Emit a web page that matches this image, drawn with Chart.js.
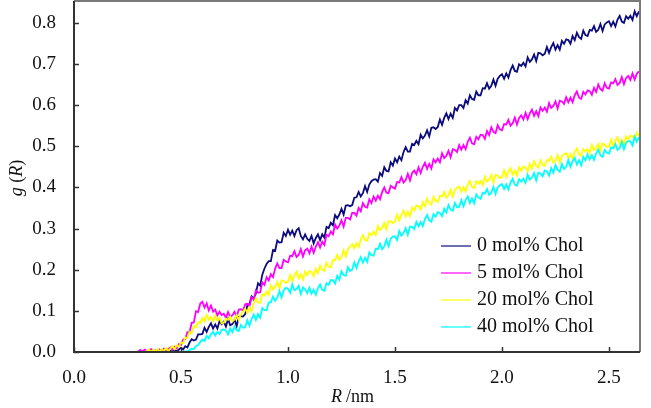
<!DOCTYPE html>
<html>
<head>
<meta charset="utf-8">
<script src="https://cdn.jsdelivr.net/npm/chart.js@4/dist/chart.umd.min.js"></script>
<style>
	html, body { margin: 0; padding: 0; background: #fff; }
	#wrap { width: 651px; height: 408px; }
</style>
</head>
<body>
<div id="wrap"><canvas id="gr" width="651" height="408"></canvas></div>
<script>
// R / nm sample positions
const rValues = [
	0.30,0.31,0.32,0.33,0.34,0.35,0.36,0.37,0.38,0.39,
	0.40,0.41,0.42,0.43,0.44,0.45,0.46,0.47,0.48,0.49,
	0.50,0.51,0.52,0.53,0.54,0.55,0.56,0.57,0.58,0.59,
	0.60,0.61,0.62,0.63,0.64,0.65,0.66,0.67,0.68,0.69,
	0.70,0.71,0.72,0.73,0.74,0.75,0.76,0.77,0.78,0.79,
	0.80,0.81,0.82,0.83,0.84,0.85,0.86,0.87,0.88,0.89,
	0.90,0.91,0.92,0.93,0.94,0.95,0.96,0.97,0.98,0.99,
	1.00,1.01,1.02,1.03,1.04,1.05,1.06,1.07,1.08,1.09,
	1.10,1.11,1.12,1.13,1.14,1.15,1.16,1.17,1.18,1.19,
	1.20,1.21,1.22,1.23,1.24,1.25,1.26,1.27,1.28,1.29,
	1.30,1.31,1.32,1.33,1.34,1.35,1.36,1.37,1.38,1.39,
	1.40,1.41,1.42,1.43,1.44,1.45,1.46,1.47,1.48,1.49,
	1.50,1.51,1.52,1.53,1.54,1.55,1.56,1.57,1.58,1.59,
	1.60,1.61,1.62,1.63,1.64,1.65,1.66,1.67,1.68,1.69,
	1.70,1.71,1.72,1.73,1.74,1.75,1.76,1.77,1.78,1.79,
	1.80,1.81,1.82,1.83,1.84,1.85,1.86,1.87,1.88,1.89,
	1.90,1.91,1.92,1.93,1.94,1.95,1.96,1.97,1.98,1.99,
	2.00,2.01,2.02,2.03,2.04,2.05,2.06,2.07,2.08,2.09,
	2.10,2.11,2.12,2.13,2.14,2.15,2.16,2.17,2.18,2.19,
	2.20,2.21,2.22,2.23,2.24,2.25,2.26,2.27,2.28,2.29,
	2.30,2.31,2.32,2.33,2.34,2.35,2.36,2.37,2.38,2.39,
	2.40,2.41,2.42,2.43,2.44,2.45,2.46,2.47,2.48,2.49,
	2.50,2.51,2.52,2.53,2.54,2.55,2.56,2.57,2.58,2.59,
	2.60,2.61,2.62,2.63,2.64
];

// 0 mol% Chol
const chol0 = [
	null,null,null,null,null,null,null,null,null,null,
	null,null,null,null,0.000,0.003,0.001,0.004,0.002,0.006,
	0.010,0.006,0.014,0.011,0.023,0.031,0.028,0.030,0.043,0.043,
	0.044,0.059,0.049,0.061,0.070,0.057,0.067,0.057,0.075,0.068,
	0.074,0.062,0.080,0.065,0.068,0.079,0.063,0.085,0.087,0.086,
	0.092,0.113,0.117,0.135,0.129,0.143,0.167,0.161,0.188,0.203,
	0.214,0.221,0.221,0.248,0.246,0.271,0.266,0.267,0.290,0.282,
	0.297,0.285,0.295,0.282,0.296,0.301,0.282,0.274,0.286,0.275,
	0.270,0.282,0.264,0.277,0.286,0.272,0.286,0.278,0.304,0.301,
	0.314,0.308,0.333,0.325,0.334,0.348,0.334,0.356,0.357,0.354,
	0.357,0.375,0.376,0.389,0.378,0.386,0.403,0.389,0.407,0.415,
	0.419,0.420,0.414,0.435,0.428,0.449,0.440,0.439,0.461,0.453,
	0.470,0.461,0.475,0.466,0.486,0.498,0.487,0.487,0.506,0.503,
	0.513,0.505,0.528,0.519,0.526,0.539,0.524,0.545,0.546,0.542,
	0.547,0.565,0.552,0.569,0.580,0.566,0.579,0.569,0.593,0.587,
	0.600,0.600,0.593,0.612,0.604,0.624,0.615,0.613,0.633,0.624,
	0.624,0.641,0.640,0.653,0.640,0.647,0.662,0.647,0.664,0.671,
	0.675,0.664,0.677,0.667,0.685,0.696,0.683,0.681,0.699,0.695,
	0.703,0.694,0.716,0.705,0.711,0.723,0.707,0.727,0.726,0.721,
	0.725,0.741,0.727,0.741,0.751,0.735,0.746,0.735,0.756,0.749,
	0.760,0.758,0.749,0.768,0.758,0.776,0.765,0.761,0.781,0.770,
	0.768,0.783,0.781,0.792,0.778,0.783,0.797,0.780,0.796,0.801,
	0.804,0.792,0.803,0.791,0.808,0.817,0.803,0.800,0.816,0.810,
	0.817,0.807,0.828,0.816,0.828
];

// 5 mol% Chol
const chol5 = [
	0.002,0.005,0.001,0.006,0.003,0.001,0.007,0.002,0.004,0.001,
	0.006,0.001,0.008,0.003,0.007,0.011,0.006,0.013,0.009,0.019,
	0.017,0.030,0.031,0.048,0.048,0.071,0.072,0.099,0.097,0.118,
	0.122,0.108,0.118,0.101,0.113,0.098,0.103,0.089,0.098,0.090,
	0.093,0.083,0.097,0.086,0.089,0.098,0.086,0.103,0.104,0.101,
	0.116,0.117,0.111,0.133,0.127,0.150,0.144,0.145,0.169,0.163,
	0.182,0.174,0.189,0.182,0.203,0.215,0.204,0.204,0.224,0.220,
	0.218,0.234,0.233,0.245,0.231,0.236,0.250,0.232,0.247,0.251,
	0.240,0.256,0.241,0.256,0.267,0.254,0.268,0.260,0.285,0.281,
	0.293,0.286,0.310,0.300,0.307,0.320,0.305,0.326,0.326,0.322,
	0.338,0.338,0.331,0.350,0.342,0.362,0.353,0.351,0.371,0.362,
	0.378,0.368,0.380,0.371,0.389,0.400,0.387,0.386,0.404,0.400,
	0.397,0.413,0.412,0.425,0.412,0.418,0.433,0.417,0.435,0.441,
	0.432,0.449,0.435,0.450,0.460,0.445,0.457,0.446,0.468,0.461,
	0.470,0.461,0.483,0.471,0.477,0.489,0.473,0.493,0.491,0.486,
	0.503,0.492,0.503,0.493,0.511,0.521,0.507,0.505,0.523,0.517,
	0.528,0.527,0.518,0.537,0.527,0.546,0.535,0.532,0.551,0.541,
	0.539,0.554,0.553,0.564,0.550,0.556,0.570,0.553,0.569,0.575,
	0.565,0.581,0.566,0.580,0.589,0.574,0.585,0.573,0.594,0.586,
	0.594,0.584,0.605,0.593,0.598,0.609,0.592,0.611,0.609,0.603,
	0.619,0.607,0.618,0.607,0.624,0.633,0.618,0.615,0.632,0.626,
	0.636,0.634,0.625,0.642,0.632,0.650,0.639,0.635,0.653,0.642,
	0.640,0.655,0.653,0.663,0.649,0.654,0.668,0.651,0.666,0.671,
	0.661,0.677,0.662,0.676,0.682
];

// 20 mol% Chol
const chol20 = [
	null,null,null,0.000,0.002,0.006,0.001,0.005,0.002,0.007,
	0.001,0.007,0.003,0.009,0.002,0.008,0.014,0.007,0.016,0.013,
	0.023,0.021,0.035,0.034,0.049,0.046,0.064,0.060,0.073,0.070,
	0.083,0.074,0.090,0.078,0.085,0.075,0.088,0.076,0.083,0.070,
	0.071,0.081,0.078,0.086,0.074,0.079,0.090,0.078,0.092,0.099,
	0.105,0.095,0.108,0.099,0.119,0.131,0.120,0.120,0.140,0.137,
	0.147,0.139,0.162,0.152,0.158,0.170,0.154,0.174,0.173,0.168,
	0.171,0.187,0.172,0.186,0.195,0.179,0.189,0.176,0.196,0.187,
	0.197,0.194,0.184,0.202,0.192,0.210,0.200,0.197,0.217,0.207,
	0.206,0.223,0.223,0.236,0.224,0.231,0.247,0.232,0.250,0.257,
	0.262,0.252,0.264,0.255,0.273,0.284,0.272,0.270,0.289,0.284,
	0.293,0.284,0.306,0.296,0.302,0.314,0.298,0.318,0.318,0.313,
	0.317,0.334,0.320,0.334,0.344,0.329,0.341,0.330,0.351,0.344,
	0.356,0.354,0.346,0.364,0.354,0.373,0.362,0.358,0.377,0.367,
	0.365,0.380,0.378,0.389,0.375,0.381,0.395,0.378,0.394,0.399,
	0.402,0.390,0.401,0.390,0.407,0.416,0.401,0.398,0.415,0.409,
	0.416,0.406,0.426,0.414,0.419,0.430,0.412,0.431,0.429,0.422,
	0.425,0.441,0.425,0.439,0.447,0.431,0.441,0.429,0.449,0.441,
	0.451,0.449,0.439,0.457,0.446,0.464,0.452,0.448,0.466,0.455,
	0.452,0.467,0.464,0.475,0.460,0.465,0.478,0.461,0.476,0.481,
	0.483,0.471,0.481,0.470,0.486,0.495,0.480,0.477,0.493,0.487,
	0.493,0.483,0.503,0.491,0.495,0.506,0.488,0.507,0.504,0.498,
	0.500,0.516,0.500,0.514,0.522,0.506,0.516,0.504,0.524,0.516,
	0.526,0.524,0.515,0.533,0.525
];

// 40 mol% Chol
const chol40 = [
	null,null,null,null,null,null,null,null,null,null,
	null,null,null,null,null,null,null,null,null,null,
	null,0.000,0.002,0.001,0.005,0.008,0.007,0.014,0.017,0.024,
	0.030,0.027,0.039,0.033,0.043,0.049,0.040,0.049,0.044,0.054,
	0.055,0.052,0.043,0.057,0.048,0.062,0.053,0.051,0.066,0.059,
	0.060,0.077,0.064,0.080,0.091,0.078,0.092,0.083,0.107,0.102,
	0.102,0.120,0.121,0.135,0.124,0.132,0.148,0.133,0.150,0.156,
	0.154,0.144,0.164,0.150,0.153,0.161,0.141,0.157,0.152,0.143,
	0.156,0.142,0.151,0.139,0.155,0.164,0.151,0.149,0.167,0.163,
	0.175,0.174,0.166,0.185,0.176,0.196,0.187,0.185,0.206,0.197,
	0.200,0.218,0.204,0.220,0.231,0.217,0.229,0.219,0.242,0.235,
	0.234,0.251,0.250,0.263,0.250,0.257,0.273,0.257,0.275,0.281,
	0.281,0.272,0.294,0.283,0.289,0.301,0.285,0.305,0.304,0.299,
	0.316,0.305,0.316,0.306,0.323,0.333,0.320,0.317,0.335,0.329,
	0.340,0.338,0.330,0.348,0.339,0.357,0.346,0.343,0.362,0.352,
	0.353,0.369,0.354,0.369,0.378,0.362,0.373,0.361,0.383,0.375,
	0.372,0.387,0.385,0.396,0.382,0.387,0.401,0.384,0.400,0.405,
	0.408,0.396,0.407,0.395,0.412,0.421,0.407,0.404,0.420,0.414,
	0.421,0.411,0.431,0.419,0.424,0.435,0.417,0.436,0.434,0.427,
	0.441,0.439,0.429,0.447,0.436,0.454,0.443,0.438,0.457,0.445,
	0.450,0.466,0.450,0.464,0.472,0.456,0.466,0.454,0.474,0.466,
	0.480,0.468,0.478,0.467,0.483,0.492,0.478,0.474,0.491,0.484,
	0.482,0.497,0.495,0.505,0.491,0.496,0.510,0.493,0.508,0.513,
	0.512,0.502,0.523,0.511,0.522
];

const seriesLabels = ['0 mol% Chol', '5 mol% Chol', '20 mol% Chol', '40 mol% Chol'];
const seriesColors = ['#0b0b7e', '#ff00ff', '#ffff00', '#00ffff'];
const seriesData = [chol0, chol5, chol20, chol40];

const xTickValues = [0.0, 0.5, 1.0, 1.5, 2.0, 2.5];
const yTickValues = [0.0, 0.1, 0.2, 0.3, 0.4, 0.5, 0.6, 0.7, 0.8];

const SERIF = '"Liberation Serif", "Times New Roman", serif';

// frame, inward ticks, axis titles and the legend inside the plot
const framePlugin = {
	id: 'frame',
	afterDraw(chart) {
		let ctx = chart.ctx;
		let a = chart.chartArea;
		let xs = chart.scales.x;
		let ys = chart.scales.y;
		ctx.save();

		ctx.strokeStyle = '#7a7a7a';
		ctx.lineWidth = 2;
		ctx.beginPath();
		ctx.moveTo(a.left, a.top);
		ctx.lineTo(a.right, a.top);
		ctx.lineTo(a.right, a.bottom);
		ctx.stroke();

		ctx.strokeStyle = '#333';
		ctx.beginPath();
		ctx.moveTo(a.left, a.top);
		ctx.lineTo(a.left, a.bottom);
		ctx.lineTo(a.right, a.bottom);
		ctx.stroke();

		ctx.lineWidth = 1.5;
		xTickValues.forEach(function(v) {
			let px = Math.round(xs.getPixelForValue(v)) + 0.5;
			ctx.beginPath();
			ctx.moveTo(px, a.bottom);
			ctx.lineTo(px, a.bottom - 5);
			ctx.stroke();
		});
		yTickValues.forEach(function(v) {
			let py = Math.round(ys.getPixelForValue(v)) + 0.5;
			ctx.beginPath();
			ctx.moveTo(a.left, py);
			ctx.lineTo(a.left + 5, py);
			ctx.stroke();
		});

		// legend
		ctx.font = '20px ' + SERIF;
		ctx.textBaseline = 'middle';
		ctx.textAlign = 'left';
		seriesLabels.forEach(function(lbl, i) {
			let y = 246 + i * 27;
			ctx.strokeStyle = seriesColors[i];
			ctx.globalAlpha = 0.75;
			ctx.lineWidth = 1.6;
			ctx.beginPath();
			ctx.moveTo(441, y);
			ctx.lineTo(471, y);
			ctx.stroke();
			ctx.globalAlpha = 1;
			ctx.fillStyle = '#111';
			ctx.fillText(lbl, 477, y);
		});

		// x title: R /nm
		ctx.fillStyle = '#111';
		ctx.textBaseline = 'alphabetic';
		let tx = 331, ty = 402;
		ctx.font = 'italic 18px ' + SERIF;
		ctx.fillText('R', tx, ty);
		tx += ctx.measureText('R').width + 4;
		ctx.font = '18px ' + SERIF;
		ctx.fillText('/nm', tx, ty);

		// y title: g (R)
		ctx.translate(17, 178);
		ctx.rotate(-Math.PI / 2);
		ctx.textBaseline = 'middle';
		let parts = [['g', true], [' (', false], ['R', true], [')', false]];
		let total = 0;
		parts.forEach(function(p) {
			ctx.font = (p[1] ? 'italic ' : '') + '18px ' + SERIF;
			total += ctx.measureText(p[0]).width;
		});
		let cx = -total / 2;
		parts.forEach(function(p) {
			ctx.font = (p[1] ? 'italic ' : '') + '18px ' + SERIF;
			ctx.fillText(p[0], cx, 0);
			cx += ctx.measureText(p[0]).width;
		});
		ctx.restore();
	}
};

class GrPlot {

	constructor(ctx) {
		this._ctx = ctx;
	}

	buildDatasets() {
		let order = [3, 2, 1, 0];
		return seriesData.map(function(vals, i) {
			return {
				label: seriesLabels[i],
				data: rValues.map(function(r, k) { return { x: r, y: vals[k] }; }),
				borderColor: seriesColors[i],
				backgroundColor: seriesColors[i],
				borderWidth: 1.8,
				pointRadius: 0,
				tension: 0,
				spanGaps: false,
				order: order[i]
			};
		});
	}

	plotGraph() {
		return new Chart(this._ctx, {
			type: 'line',
			data: { datasets: this.buildDatasets() },
			options: {
				responsive: false,
				animation: false,
				devicePixelRatio: 1,
				layout: { padding: { left: 0, right: 11, top: 1, bottom: 0 } },
				plugins: { legend: { display: false }, tooltip: { enabled: false } },
				scales: {
					x: {
						type: 'linear',
						min: 0,
						max: 2.645,
						grid: { display: false },
						border: { display: false },
						afterFit: function(s) {
							s.height = 56;
							s.paddingLeft = 0;
							s.paddingRight = 0;
						},
						ticks: {
							stepSize: 0.5,
							includeBounds: false,
							padding: 7,
							color: '#111',
							maxRotation: 0,
							font: { family: SERIF, size: 19 },
							callback: function(v) { return Number(v).toFixed(1); }
						}
					},
					y: {
						min: 0,
						max: 0.853,
						grid: { display: false },
						border: { display: false },
						afterFit: function(s) {
							s.width = 74;
							s.paddingTop = 0;
							s.paddingBottom = 0;
						},
						ticks: {
							stepSize: 0.1,
							includeBounds: false,
							padding: 10,
							color: '#111',
							font: { family: SERIF, size: 19 },
							callback: function(v) { return Number(v).toFixed(1); }
						}
					}
				}
			},
			plugins: [framePlugin]
		});
	}
}

new GrPlot(document.getElementById('gr').getContext('2d')).plotGraph();
</script>
</body>
</html>
